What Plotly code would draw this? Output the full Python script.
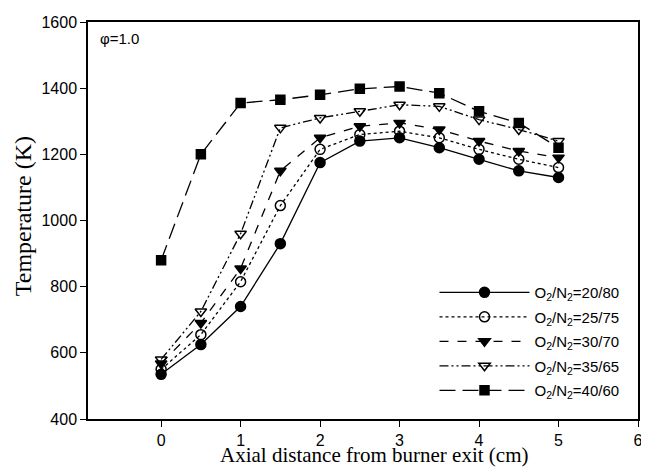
import plotly.graph_objects as go

x_cm = [0, 0.5, 1, 1.5, 2, 2.5, 3, 3.5, 4, 4.5, 5]
t_20_80 = [535, 625, 740, 930, 1175, 1240, 1250, 1220, 1185, 1150, 1130]
t_25_75 = [550, 655, 815, 1045, 1215, 1260, 1270, 1250, 1215, 1185, 1160]
t_30_70 = [568, 690, 855, 1150, 1250, 1285, 1295, 1275, 1240, 1210, 1190]
t_35_65 = [580, 725, 960, 1280, 1310, 1330, 1350, 1345, 1305, 1275, 1240]
t_40_60 = [880, 1200, 1355, 1365, 1380, 1398, 1405, 1385, 1330, 1295, 1220]

names = ["O<sub>2</sub>/N<sub>2</sub>=20/80", "O<sub>2</sub>/N<sub>2</sub>=25/75",
         "O<sub>2</sub>/N<sub>2</sub>=30/70", "O<sub>2</sub>/N<sub>2</sub>=35/65",
         "O<sub>2</sub>/N<sub>2</sub>=40/60"]
x_ticks = [0, 1, 2, 3, 4, 5, 6]
y_ticks = [400, 600, 800, 1000, 1200, 1400, 1600]

series = [
    (t_20_80, "solid", "circle", 10),
    (t_25_75, "dot", "circle-open", 10),
    (t_30_70, "dash", "triangle-down", 10),
    (t_35_65, "9px,3px,2px,3px,2px,3px", "triangle-down-open", 10),
    (t_40_60, "16px,7px", "square", 9),
]

fig = go.Figure()
for i, ((ys, dash, sym, sz), nm) in enumerate(zip(series, names)):
    fig.add_trace(go.Scatter(
        x=x_cm, y=ys, name=nm, mode="lines+markers", legendgroup=f"g{i}",
        line=dict(color="black", width=1.3, dash=dash),
        marker=dict(symbol=sym, size=sz, color="black",
                    line=dict(color="black", width=1.5)),
    ))

serif = "Liberation Serif, Times New Roman"
# The page body adds an 8px offset, so the figure is sized 641x462.
fig.update_layout(
    width=641, height=462,
    margin=dict(l=80, r=6, t=12, b=51),
    paper_bgcolor="white", plot_bgcolor="white",
    font=dict(family="Liberation Sans, Arial", size=16, color="black"),
    showlegend=True,
    legend=dict(x=0.63, y=0.36, xanchor="left", yanchor="top",
                bgcolor="rgba(0,0,0,0)", borderwidth=0,
                font=dict(size=15, color="black"), itemwidth=90, tracegroupgap=2),
    annotations=[
        dict(text="\u03c6=1.0", x=0.018, y=0.985, xref="paper", yref="paper",
             xanchor="left", yanchor="top", showarrow=False,
             font=dict(size=15, color="black")),
        dict(text="Axial distance from burner exit (cm)", x=0.52, y=-0.126,
             xref="paper", yref="paper", xanchor="center", yanchor="bottom",
             showarrow=False, font=dict(family=serif, size=21, color="black")),
        dict(text="Temperature (K)", x=-0.118, y=0.511, textangle=-90,
             xref="paper", yref="paper", xanchor="center", yanchor="middle",
             showarrow=False, font=dict(family=serif, size=24, color="black")),
    ],
)
fig.update_xaxes(range=[-0.92, 6], tickvals=x_ticks, ticklabeloverflow="allow",
                 showline=True, linecolor="black", linewidth=1.5, mirror=True,
                 ticks="outside", ticklen=6, tickcolor="black", showgrid=False, zeroline=False)
fig.update_yaxes(range=[400, 1600], tickvals=y_ticks, ticklabeloverflow="allow",
                 showline=True, linecolor="black", linewidth=1.5, mirror=True,
                 ticks="outside", ticklen=6, tickcolor="black", showgrid=False, zeroline=False)

fig.write_html("out.html")
